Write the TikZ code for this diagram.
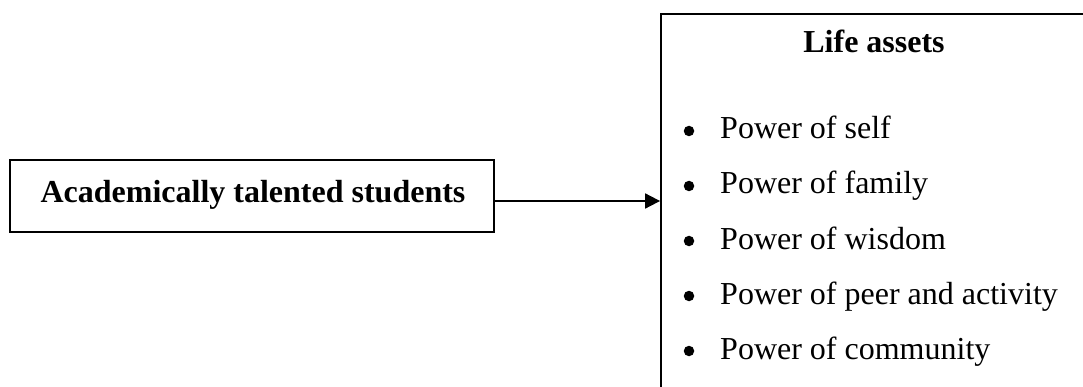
\documentclass[tikz,border=0pt]{standalone}
\usepackage{fontspec}
\setmainfont{Liberation Serif}
\usetikzlibrary{arrows.meta}
\begin{document}
\begin{tikzpicture}[x=1pt,y=-1pt,
  box/.style={draw=black, line width=1.8pt, rectangle, inner sep=0pt},
  txt/.style={font=\fontsize{32}{38}\selectfont, inner sep=0pt},
  btxt/.style={font=\fontsize{32}{38}\selectfont\bfseries, inner sep=0pt},
  dot/.style={circle, fill=black, draw=none, minimum size=10.5pt, inner sep=0pt},
  conn/.style={draw=black, line width=1.8pt, -{Triangle[length=15pt,width=15pt]}}]
\useasboundingbox (0,0) rectangle (1083,387);
\fill[white] (0,0) rectangle (1083,387);
\clip (0,0) rectangle (1083,387);
\node[box, minimum width=484pt, minimum height=72pt] (lb) at (252,196) {};
\node[btxt, anchor=base] (lbt) at (253,203) {Academically talented students};
\node[box, minimum width=440pt, minimum height=390pt] (rb) at (881,209) {};
\node[btxt, anchor=base] (title) at (874,53) {Life assets};
\node[dot] (b1) at (689,131) {};
\node[txt, anchor=base west] (i1) at (720,139) {Power of self};
\node[dot] (b2) at (689,186) {};
\node[txt, anchor=base west] (i2) at (720,194) {Power of family};
\node[dot] (b3) at (689,241) {};
\node[txt, anchor=base west] (i3) at (720,249) {Power of wisdom};
\node[dot] (b4) at (689,296) {};
\node[txt, anchor=base west] (i4) at (720,304) {Power of peer and activity};
\node[dot] (b5) at (689,351) {};
\node[txt, anchor=base west] (i5) at (720,359) {Power of community};
\draw[conn] ([yshift=-5pt]lb.east) -- ([yshift=-5pt]lb.east -| rb.west);
\end{tikzpicture}
\end{document}
